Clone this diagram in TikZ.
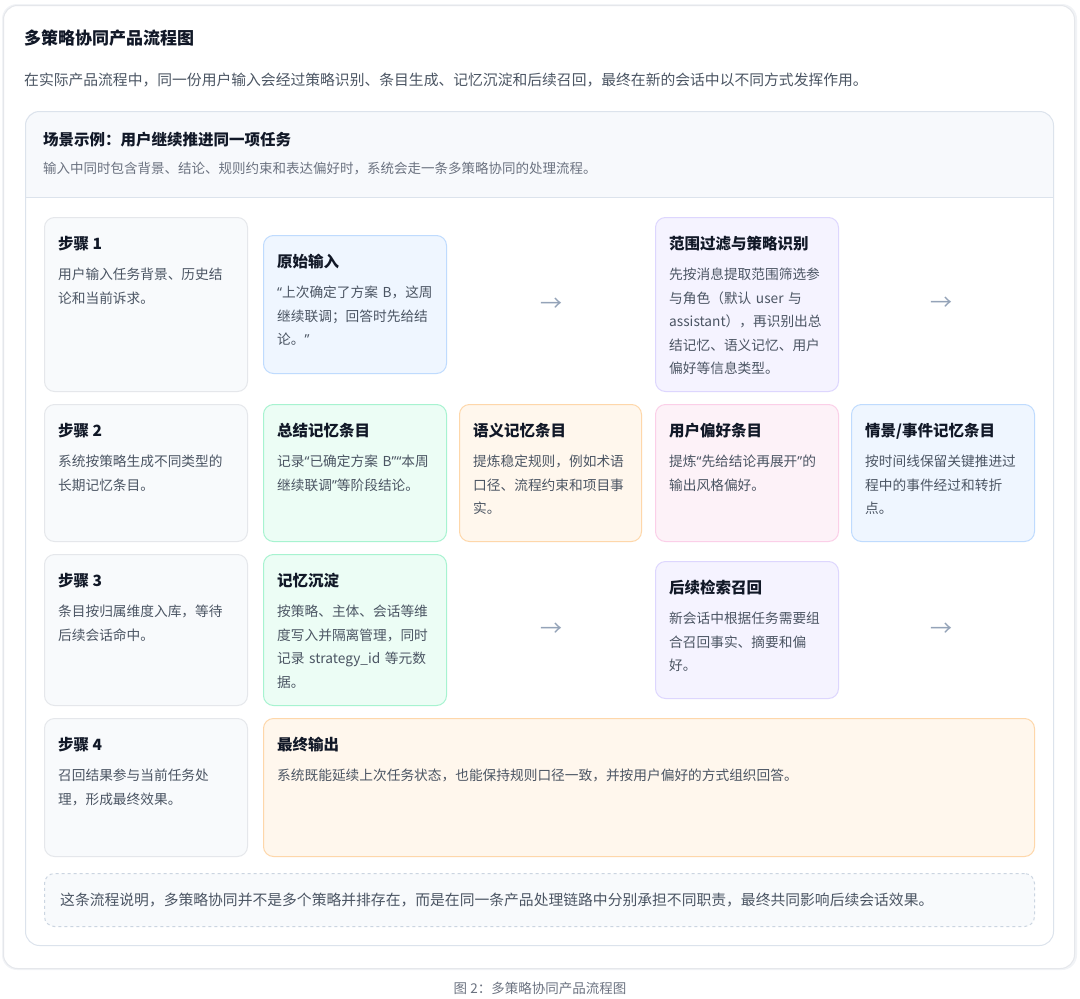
\documentclass[tikz,border=0pt]{standalone}
\usepackage{fontspec}
\setmainfont{Noto Sans CJK SC}
\newfontfamily\quotefont{Noto Sans}
\usetikzlibrary{positioning,calc}

\definecolor{ink}{HTML}{111827}
\definecolor{bodygray}{HTML}{4B5563}
\definecolor{subgray}{HTML}{6B7280}
\definecolor{cardline}{HTML}{E5E7EB}
\definecolor{stepfill}{HTML}{F8FAFC}
\definecolor{bluefill}{HTML}{EFF6FF}
\definecolor{blueline}{HTML}{BFDBFE}
\definecolor{purplefill}{HTML}{F5F3FF}
\definecolor{purpleline}{HTML}{DDD6FE}
\definecolor{greenfill}{HTML}{ECFDF5}
\definecolor{greenline}{HTML}{A7F3D0}
\definecolor{orangefill}{HTML}{FFF7ED}
\definecolor{orangeline}{HTML}{FED7AA}
\definecolor{pinkfill}{HTML}{FDF2F8}
\definecolor{pinkline}{HTML}{FBCFE8}
\definecolor{panelline}{HTML}{DCE3EC}
\definecolor{headfill}{HTML}{F7F9FC}
\definecolor{noteline}{HTML}{CBD5E1}
\definecolor{arrowgray}{HTML}{94A3B8}
\definecolor{shadowgray}{HTML}{F1F3F6}

\newcommand\cardtitlefont{\fontsize{15.5}{18}\selectfont\bfseries}
\newcommand\cardbodyfont{\fontsize{13.7}{23.5}\selectfont}
\newcommand\openq{{\quotefont “}}
\newcommand\closeq{{\quotefont ”}}

\begin{document}
\begin{tikzpicture}[x=1pt,y=-1pt,
  card/.style={draw,rounded corners=10pt,line width=1pt,anchor=north west,inner sep=0pt},
  stepcard/.style={card,draw=cardline,fill=stepfill},
  bluecard/.style={card,draw=blueline,fill=bluefill},
  purplecard/.style={card,draw=purpleline,fill=purplefill},
  greencard/.style={card,draw=greenline,fill=greenfill},
  orangecard/.style={card,draw=orangeline,fill=orangefill},
  pinkcard/.style={card,draw=pinkline,fill=pinkfill},
  cardtitle/.style={anchor=base west,inner sep=0pt,font=\cardtitlefont,text=ink},
  cardtext/.style={anchor=base west,inner sep=0pt,font=\cardbodyfont,text=bodygray,align=left,text width=180pt},
  flowarrow/.style={inner sep=0pt,font=\fontsize{22}{22}\selectfont,text=arrowgray}]
       \useasboundingbox (0,0) rectangle (1080,999);
       % outer card
       \fill[shadowgray,rounded corners=15pt] (2,4) rectangle (1077,970);
       \node[draw=cardline,fill=white,rounded corners=14pt,line width=1pt,anchor=north west,inner sep=0pt,
             minimum width=1071pt,minimum height=963pt] (outer) at (3,5) {};
       \node[anchor=west,inner sep=0pt,font=\fontsize{17}{20}\selectfont\bfseries,text=ink] (title) at (24,38) {多策略协同产品流程图};
       \node[anchor=west,inner sep=0pt,font=\fontsize{14.8}{18}\selectfont,text=bodygray] (lead) at (24,80)
            {在实际产品流程中，同一份用户输入会经过策略识别、条目生成、记忆沉淀和后续召回，最终在新的会话中以不同方式发挥作用。};
       % scenario panel
       \begin{scope}
         \clip[rounded corners=14pt] (25,111) rectangle (1053,945);
         \fill[headfill] (25,111) rectangle (1053,197);
       \end{scope}
       \draw[panelline,line width=1pt] (25,197) -- (1053,197);
       \node[draw=panelline,rounded corners=14pt,line width=1pt,anchor=north west,inner sep=0pt,
             minimum width=1028pt,minimum height=834pt] (panel) at (25,111) {};
       \node[anchor=west,inner sep=0pt,font=\fontsize{15.5}{18}\selectfont\bfseries,text=ink] (scene) at (43,140) {场景示例：用户继续推进同一项任务};
       \node[anchor=west,inner sep=0pt,font=\fontsize{13.5}{16}\selectfont,text=subgray] (scenesub) at (43,169)
            {输入中同时包含背景、结论、规则约束和表达偏好时，系统会走一条多策略协同的处理流程。};
       % row 1
       \node[stepcard,minimum width=203pt,minimum height=174pt] (s1) at (44,217) {};
       \node[cardtitle] at ([shift={(14,32.5)}]s1.north west) {步骤 1};
       \node[cardtext] at ([shift={(14,62.5)}]s1.north west) {用户输入任务背景、历史结\\论和当前诉求。};
       \node[bluecard,minimum width=183pt,minimum height=138pt] (raw) at (263,235) {};
       \node[cardtitle] at ([shift={(14,32.5)}]raw.north west) {原始输入};
       \node[cardtext] at ([shift={(14,62.5)}]raw.north west) {\openq 上次确定了方案 B，这周\\继续联调；回答时先给结\\论。\closeq};
       \node[purplecard,minimum width=183pt,minimum height=174pt] (scope) at (655,217) {};
       \node[cardtitle] at ([shift={(14,32.5)}]scope.north west) {范围过滤与策略识别};
       \node[cardtext] at ([shift={(14,62.5)}]scope.north west) {先按消息提取范围筛选参\\与角色（默认 user 与\\assistant），再识别出总\\结记忆、语义记忆、用户\\偏好等信息类型。};
       \node[flowarrow] (a1) at ($(raw.east)!0.5!(scope.west)$) {→};
       \node[flowarrow] (a2) at (941,304) {→};
       % row 2
       \node[stepcard,minimum width=203pt,minimum height=137pt] (s2) at (44,404) {};
       \node[cardtitle] at ([shift={(14,32.5)}]s2.north west) {步骤 2};
       \node[cardtext] at ([shift={(14,62.5)}]s2.north west) {系统按策略生成不同类型的\\长期记忆条目。};
       \node[greencard,minimum width=183pt,minimum height=137pt] (sum) at (263,404) {};
       \node[cardtitle] at ([shift={(14,32.5)}]sum.north west) {总结记忆条目};
       \node[cardtext] at ([shift={(14,62.5)}]sum.north west) {记录\openq 已确定方案 B\closeq\openq 本周\\继续联调\closeq 等阶段结论。};
       \node[orangecard,minimum width=182pt,minimum height=137pt] (sem) at (459,404) {};
       \node[cardtitle] at ([shift={(14,32.5)}]sem.north west) {语义记忆条目};
       \node[cardtext] at ([shift={(14,62.5)}]sem.north west) {提炼稳定规则，例如术语\\口径、流程约束和项目事\\实。};
       \node[pinkcard,minimum width=183pt,minimum height=137pt] (pref) at (655,404) {};
       \node[cardtitle] at ([shift={(14,32.5)}]pref.north west) {用户偏好条目};
       \node[cardtext] at ([shift={(14,62.5)}]pref.north west) {提炼\openq 先给结论再展开\closeq 的\\输出风格偏好。};
       \node[bluecard,minimum width=183pt,minimum height=137pt] (epi) at (851,404) {};
       \node[cardtitle] at ([shift={(14,32.5)}]epi.north west) {情景/事件记忆条目};
       \node[cardtext] at ([shift={(14,62.5)}]epi.north west) {按时间线保留关键推进过\\程中的事件经过和转折\\点。};
       % row 3
       \node[stepcard,minimum width=203pt,minimum height=151pt] (s3) at (44,554) {};
       \node[cardtitle] at ([shift={(14,32.5)}]s3.north west) {步骤 3};
       \node[cardtext] at ([shift={(14,62.5)}]s3.north west) {条目按归属维度入库，等待\\后续会话命中。};
       \node[greencard,minimum width=183pt,minimum height=151pt] (settle) at (263,554) {};
       \node[cardtitle] at ([shift={(14,32.5)}]settle.north west) {记忆沉淀};
       \node[cardtext] at ([shift={(14,62.5)}]settle.north west) {按策略、主体、会话等维\\度写入并隔离管理，同时\\记录 strategy\_id 等元数\\据。};
       \node[purplecard,minimum width=183pt,minimum height=137pt] (recall) at (655,561) {};
       \node[cardtitle] at ([shift={(14,32.5)}]recall.north west) {后续检索召回};
       \node[cardtext] at ([shift={(14,62.5)}]recall.north west) {新会话中根据任务需要组\\合召回事实、摘要和偏\\好。};
       \node[flowarrow] (a3) at ($(settle.east)!0.5!(recall.west)$) {→};
       \node[flowarrow] (a4) at (941,630) {→};
       % row 4
       \node[stepcard,minimum width=203pt,minimum height=138pt] (s4) at (44,718) {};
       \node[cardtitle] at ([shift={(14,32.5)}]s4.north west) {步骤 4};
       \node[cardtext] at ([shift={(14,62.5)}]s4.north west) {召回结果参与当前任务处\\理，形成最终效果。};
       \node[orangecard,minimum width=771pt,minimum height=138pt] (final) at (263,718) {};
       \node[cardtitle] at ([shift={(14,32.5)}]final.north west) {最终输出};
       \node[cardtext,text width=740pt] at ([shift={(14,62.5)}]final.north west) {系统既能延续上次任务状态，也能保持规则口径一致，并按用户偏好的方式组织回答。};
       % note
       \node[draw=noteline,fill=stepfill,dashed,dash pattern=on 3pt off 3pt,rounded corners=10pt,line width=1pt,
             anchor=north west,inner sep=0pt,minimum width=990pt,minimum height=53pt] (note) at (44,873) {};
       \node[anchor=west,inner sep=0pt,font=\fontsize{14.8}{18}\selectfont,text=bodygray] at ([xshift=16pt]note.west)
            {这条流程说明，多策略协同并不是多个策略并排存在，而是在同一条产品处理链路中分别承担不同职责，最终共同影响后续会话效果。};
       % caption
       \node[inner sep=0pt,font=\fontsize{13.5}{16}\selectfont,text=subgray] (cap) at (540,988) {图 2：多策略协同产品流程图};
\end{tikzpicture}
\end{document}
